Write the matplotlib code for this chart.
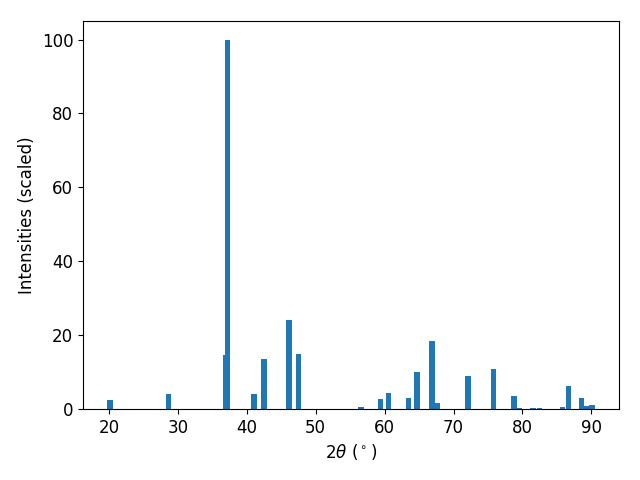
import matplotlib
matplotlib.use("Agg")
import matplotlib.pyplot as plt

# --- peak positions (2theta, degrees) and scaled intensities ---
two_theta = [20.15, 28.64, 36.95, 37.2, 41.06, 42.5, 46.14, 47.52,
             56.6, 59.43, 60.59, 63.5, 64.73, 66.9, 67.6, 72.1, 75.84,
             78.8, 79.6, 81.57, 82.45, 85.8, 86.66, 88.6, 89.25, 90.07]
intensity = [2.4, 4.1, 14.6, 100.0, 4.1, 13.6, 24.1, 14.9,
             0.5, 2.7, 4.3, 3.0, 10.0, 18.4, 1.6, 8.9, 10.8,
             3.5, 0.3, 0.3, 0.3, 0.5, 6.2, 3.0, 0.8, 1.1]

fig, ax = plt.subplots(figsize=(6.4, 4.8), dpi=100)
ax.bar(two_theta, intensity, width=0.8, color="#1f77b4")

ax.set_xlabel(r"$2\theta$ ($^\circ$)", fontsize=12)
ax.set_ylabel("Intensities (scaled)", fontsize=12)
ax.tick_params(labelsize=12)

fig.subplots_adjust(left=0.1297, right=0.967, bottom=0.148, top=0.956)
plt.savefig("out.png", dpi=100)
